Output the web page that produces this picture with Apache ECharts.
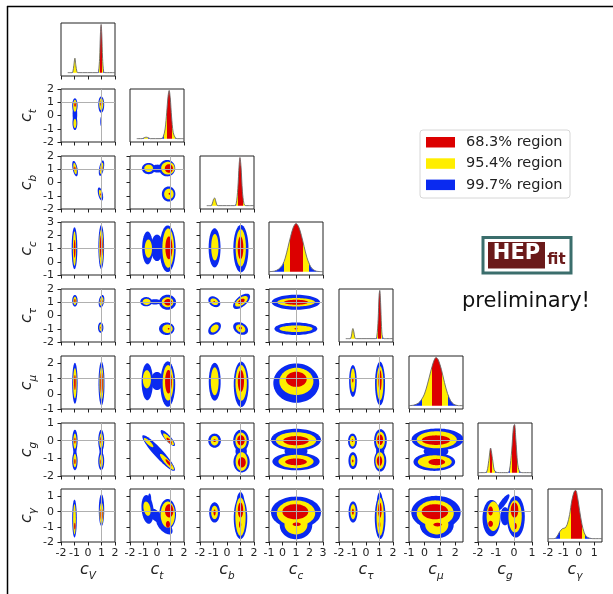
<!DOCTYPE html>
<html>
<head>
<meta charset="utf-8">
<script src="https://cdn.jsdelivr.net/npm/echarts@6/dist/echarts.min.js"></script>
<style>html,body{margin:0;background:#fff}#chart{width:613px;height:594px}</style>
</head>
<body>
<div id="chart"></div>
<script>
const FONT = 'DejaVu Sans';
const RED = '#dc0000', YELLOW = '#ffee00', BLUE = '#0a2af0';
const levelColor = {1: RED, 2: YELLOW, 3: BLUE};

// parameters (order of rows / columns)
const params = ['V', 't', 'b', 'c', 'τ', 'μ', 'g', 'γ'];
const axisMin = [-2, -2, -2, -1, -2, -1, -2, -2];
const axisMax = [2, 2, 2, 3, 2, 2.5, 1, 1.5];
const tickValues = [
  [-2, -1, 0, 1, 2], [-2, -1, 0, 1, 2], [-2, -1, 0, 1, 2], [-1, 0, 1, 2, 3],
  [-2, -1, 0, 1, 2], [-1, 0, 1, 2], [-2, -1, 0, 1], [-2, -1, 0, 1]
];
const smPoint = [1, 1, 1, 1, 1, 1, 0, 0];

// 1D posteriors [x, density / peak]
const hist_cV = [[-1.5,0],[-1.2,0],[-1.12,0.02],[-1.05,0.15],[-0.97,0.3],[-0.9,0.15],[-0.82,0.02],[-0.75,0],[0.7,0],[0.78,0.02],[0.86,0.3],[0.92,0.8],[0.97,1],[1.02,0.8],[1.08,0.3],[1.16,0.02],[1.25,0],[2,0]];
const hist_ct = [[-1.5,0],[-1.1,0],[-0.95,0.02],[-0.8,0.03],[-0.65,0.02],[-0.5,0],[0.3,0],[0.45,0.03],[0.6,0.2],[0.72,0.55],[0.82,0.88],[0.9,1],[0.98,0.85],[1.08,0.45],[1.2,0.13],[1.35,0.02],[1.5,0],[2,0]];
const hist_cb = [[-1.5,0],[-1.2,0],[-1.1,0.03],[-1.0,0.13],[-0.92,0.16],[-0.84,0.1],[-0.74,0.01],[-0.65,0],[0.55,0],[0.68,0.04],[0.8,0.35],[0.9,0.85],[0.96,1],[1.04,0.8],[1.14,0.3],[1.26,0.04],[1.4,0],[2,0]];
const hist_cc = [[-1,0],[-0.6,0.01],[-0.3,0.05],[0,0.14],[0.2,0.28],[0.4,0.5],[0.6,0.73],[0.8,0.92],[1.0,1.0],[1.2,0.93],[1.4,0.75],[1.6,0.52],[1.8,0.3],[2.0,0.15],[2.2,0.06],[2.5,0.01],[3,0]];
const hist_ctau = [[-1.5,0],[-1.2,0],[-1.1,0.03],[-1.02,0.17],[-0.97,0.21],[-0.9,0.14],[-0.82,0.02],[-0.7,0],[0.7,0],[0.8,0.04],[0.9,0.4],[0.97,0.9],[1.02,1],[1.08,0.75],[1.15,0.25],[1.22,0.03],[1.35,0],[2,0]];
const hist_cmu = [[-1,0],[-0.7,0.01],[-0.4,0.05],[-0.2,0.12],[0,0.24],[0.2,0.45],[0.4,0.7],[0.6,0.92],[0.75,1.0],[0.9,0.95],[1.1,0.75],[1.3,0.48],[1.5,0.25],[1.7,0.1],[1.9,0.03],[2.2,0],[2.5,0]];
const hist_cg = [[-2,0],[-1.6,0],[-1.5,0.03],[-1.4,0.25],[-1.3,0.51],[-1.2,0.3],[-1.1,0.06],[-1.0,0.01],[-0.8,0],[-0.35,0],[-0.25,0.05],[-0.13,0.45],[-0.03,0.95],[0.03,1.0],[0.1,0.7],[0.2,0.2],[0.3,0.03],[0.45,0],[1,0]];
const hist_cgam = [[-2,0],[-1.6,0],[-1.45,0.03],[-1.25,0.14],[-1.05,0.21],[-0.9,0.22],[-0.75,0.3],[-0.6,0.5],[-0.45,0.8],[-0.3,0.98],[-0.2,1.0],[-0.08,0.85],[0.05,0.58],[0.2,0.3],[0.35,0.12],[0.5,0.04],[0.7,0.01],[0.9,0],[1.5,0]];

// credible intervals [from, to, level] (1 = 68.3%, 2 = 95.4%, rest 99.7%)
const band_cV = [[-1.1,-0.84,2],[0.82,0.9,2],[0.9,1.06,1],[1.06,1.14,2]];
const band_ct = [[-0.95,-0.68,2],[0.52,0.72,2],[0.72,1.12,1],[1.12,1.3,2]];
const band_cb = [[-1.08,-0.72,2],[0.66,0.8,2],[0.8,1.18,1],[1.18,1.32,2]];
const band_cc = [[0.1,0.55,2],[0.55,1.5,1],[1.5,1.98,2]];
const band_ctau = [[-1.1,-0.85,2],[0.83,0.92,2],[0.92,1.14,1],[1.14,1.22,2]];
const band_cmu = [[-0.18,0.47,2],[0.47,1.12,1],[1.12,1.55,2]];
const band_cg = [[-1.5,-1.33,2],[-1.33,-1.22,1],[-1.22,-1.08,2],[-0.24,-0.09,2],[-0.09,0.15,1],[0.15,0.26,2]];
const band_cgam = [[-1.24,-0.51,2],[-0.51,0.2,1],[0.2,0.42,2]];

const hists = [hist_cV, hist_ct, hist_cb, hist_cc, hist_ctau, hist_cmu, hist_cg, hist_cgam];
const bands = [band_cV, band_ct, band_cb, band_cc, band_ctau, band_cmu, band_cg, band_cgam];

// 2D regions: [level, centre x, centre y, half-width x, half-height y, correlation]
const ct_cV = [[3,-0.97,0.75,0.2,0.55,0],[3,-0.97,-0.55,0.18,0.55,0],[3,-0.97,0.1,0.17,0.75,0],[2,-0.97,0.73,0.13,0.45,0],[2,-0.97,-0.6,0.11,0.35,0],[1,-0.96,0.8,0.06,0.14,0],[3,0.98,0.82,0.22,0.62,0],[3,0.97,-0.45,0.06,0.35,0],[2,0.98,0.85,0.15,0.45,0],[1,0.98,0.9,0.07,0.18,0]];
const cb_cV = [[3,-0.96,1.05,0.21,0.58,-0.5],[2,-0.96,1.05,0.13,0.42,-0.5],[1,-0.97,1.05,0.05,0.15,-0.3],[3,1.0,1.08,0.2,0.58,0.5],[2,1.0,1.08,0.13,0.42,0.5],[1,1.0,1.05,0.06,0.2,0.3],[3,0.92,-0.87,0.2,0.5,-0.5],[2,0.93,-0.87,0.12,0.33,-0.5],[1,0.95,-0.9,0.04,0.08,0]];
const cb_ct = [[3,-0.62,1.05,0.5,0.42,0],[3,0.05,1.05,0.5,0.3,0],[3,0.75,1.08,0.6,0.62,0],[2,-0.62,1.07,0.32,0.28,0],[2,0.81,1.08,0.5,0.48,0],[1,0.88,1.06,0.3,0.32,0],[3,0.86,-0.87,0.5,0.57,0],[2,0.88,-0.87,0.35,0.4,0],[1,0.93,-0.85,0.07,0.07,0]];
const cc_cV = [[3,-1.0,1.02,0.21,1.58,0],[2,-1.0,0.99,0.12,1.29,0],[1,-0.99,0.98,0.06,0.68,0],[3,0.98,1.11,0.21,1.67,0],[2,0.98,1.07,0.15,1.38,0],[1,0.98,1.15,0.1,0.87,0]];
const cc_ct = [[3,-0.7,1.04,0.4,1.24,0],[3,0.0,1.05,0.45,1.0,0],[3,0.79,0.98,0.59,1.76,0],[2,-0.64,0.99,0.27,0.69,0],[2,0.83,1.03,0.43,1.48,0],[1,0.88,1.05,0.26,0.86,0]];
const cc_cb = [[3,-0.92,1.05,0.44,1.48,0],[2,-0.9,1.1,0.27,1.0,0],[3,1.03,0.99,0.56,1.79,0],[2,1.02,1.05,0.38,1.41,0],[1,1.0,1.05,0.21,0.86,0]];
const ctau_cV = [[3,-0.97,1.11,0.2,0.44,0],[2,-0.97,1.11,0.12,0.31,0],[1,-0.97,1.11,0.05,0.14,0],[3,1.0,1.08,0.21,0.47,0.3],[2,1.0,1.07,0.14,0.33,0.3],[1,1.0,1.05,0.07,0.15,0],[3,0.94,-0.91,0.2,0.39,0],[2,0.95,-0.91,0.11,0.26,0],[1,0.96,-0.92,0.04,0.07,0]];
const ctau_ct = [[3,-0.8,1.04,0.44,0.35,0],[3,-0.15,1.03,0.45,0.2,0],[3,0.78,1.0,0.63,0.57,0],[2,-0.77,1.03,0.29,0.23,0],[2,0.78,1.0,0.43,0.38,0],[1,0.82,1.0,0.29,0.24,0],[3,0.72,-1.0,0.57,0.47,0],[2,0.78,-1.0,0.38,0.32,0],[1,0.86,-1.0,0.06,0.06,0]];
const ctau_cb = [[3,-0.94,1.04,0.44,0.41,-0.3],[2,-0.94,1.04,0.29,0.25,-0.3],[1,-0.95,1.05,0.05,0.05,0],[3,1.08,1.07,0.63,0.58,0.6],[2,1.07,1.07,0.47,0.4,0.6],[1,1.06,1.07,0.25,0.2,0.5],[3,-0.92,-0.98,0.47,0.48,0.4],[2,-0.92,-0.98,0.3,0.3,0.4],[3,1.01,-0.98,0.55,0.48,-0.3],[2,1.01,-0.98,0.35,0.3,-0.3],[1,1.0,-0.95,0.1,0.1,0]];
const ctau_cc = [[3,0.99,1.0,1.79,0.57,0],[2,1.01,1.0,1.4,0.32,0],[1,1.01,1.0,0.9,0.19,0],[3,0.99,-1.0,1.59,0.47,0],[2,1.0,-1.0,1.23,0.25,0],[1,1.0,-1.0,0.12,0.05,0]];
const cmu_cV = [[3,-0.97,0.7,0.2,1.35,0],[2,-0.97,0.7,0.13,1.0,0],[1,-0.97,0.75,0.06,0.5,0],[3,1.0,0.68,0.22,1.45,0],[2,1.0,0.7,0.15,1.1,0],[1,1.0,0.72,0.09,0.78,0]];
const cmu_ct = [[3,-0.72,0.8,0.42,1.22,0],[3,0.0,0.85,0.45,0.6,0],[3,0.8,0.65,0.55,1.5,0],[2,-0.75,0.96,0.3,0.6,0],[2,0.82,0.73,0.4,1.17,0],[1,0.85,0.8,0.25,0.78,0]];
const cmu_cb = [[3,-0.91,0.8,0.44,1.25,0],[2,-0.91,0.83,0.29,0.92,0],[3,1.05,0.63,0.55,1.5,0],[2,1.05,0.72,0.42,1.18,0],[1,1.03,0.85,0.23,0.72,0]];
const cmu_cc = [[3,1.02,0.71,1.7,1.3,0],[2,1.03,0.82,1.26,0.9,0],[1,1.02,0.96,0.77,0.5,0]];
const cmu_ctau = [[3,-0.97,0.85,0.28,1.05,0],[2,-0.97,0.9,0.17,0.78,0],[1,-0.98,0.9,0.05,0.15,0],[3,1.04,0.68,0.37,1.44,0],[2,1.04,0.7,0.25,1.13,0],[1,1.04,0.9,0.12,0.66,0]];
const cg_cV = [[3,-0.97,0.0,0.2,0.62,0],[3,-0.97,-1.15,0.2,0.52,0],[3,-0.97,-0.6,0.12,0.4,0],[2,-0.97,-0.03,0.12,0.43,0],[2,-0.97,-1.13,0.12,0.38,0],[1,-0.97,0.0,0.05,0.17,0],[1,-0.97,-1.18,0.05,0.15,0],[3,0.98,0.0,0.22,0.62,0],[3,0.98,-1.15,0.22,0.52,0],[3,0.98,-0.6,0.13,0.4,0],[2,0.98,0.0,0.14,0.42,0],[2,0.98,-1.15,0.13,0.38,0],[1,0.98,0.02,0.07,0.2,0],[1,0.98,-1.2,0.06,0.15,0]];
const cg_ct = [[3,0.8,0.15,0.53,0.45,-0.85],[3,0.12,-0.7,1.21,1.01,-0.93],[2,0.85,0.08,0.4,0.33,-0.85],[2,-0.62,-0.11,0.35,0.26,-0.85],[2,0.74,-1.2,0.52,0.45,-0.9],[1,0.9,0.0,0.2,0.17,-0.8],[1,0.85,-1.25,0.22,0.2,-0.85]];
const cg_cb = [[3,-0.92,0.0,0.47,0.4,0],[2,-0.92,0.0,0.29,0.27,0],[1,-0.92,0.0,0.1,0.08,0],[3,1.04,0.0,0.58,0.62,0],[3,1.08,-1.2,0.6,0.6,0],[3,1.05,-0.6,0.42,0.4,0],[2,1.04,0.0,0.42,0.46,0],[2,1.08,-1.18,0.44,0.53,0],[1,1.03,0.02,0.28,0.29,0],[1,1.1,-1.23,0.29,0.29,0]];
const cg_cc = [[3,1.0,0.05,1.85,0.62,0],[3,1.0,-1.18,1.75,0.5,0],[3,1.0,-0.6,0.85,0.35,0],[2,1.0,0.02,1.5,0.46,0],[2,1.0,-1.18,1.3,0.38,0],[1,1.0,0.0,0.95,0.26,0],[1,1.0,-1.2,0.8,0.19,0]];
const cg_ctau = [[3,-1.0,-0.03,0.33,0.43,0],[2,-1.0,-0.03,0.2,0.3,0],[1,-1.0,0.0,0.06,0.08,0],[3,-0.97,-1.13,0.33,0.48,0],[2,-0.97,-1.13,0.18,0.32,0],[1,-0.98,-1.15,0.05,0.08,0],[3,1.07,0.0,0.47,0.65,0],[3,1.05,-1.15,0.45,0.6,0],[3,1.05,-0.6,0.3,0.4,0],[2,1.07,0.02,0.33,0.48,0],[2,1.03,-1.13,0.33,0.48,0],[1,1.05,0.05,0.22,0.3,0],[1,1.0,-1.15,0.2,0.28,0]];
const cg_cmu = [[3,0.85,0.07,1.68,0.62,0],[3,0.64,-1.2,1.35,0.51,0],[3,0.75,-0.6,0.8,0.35,0],[2,0.8,0.05,1.3,0.48,0],[2,0.67,-1.2,1.1,0.37,0],[1,0.75,0.03,0.92,0.27,0],[1,0.8,-1.21,0.54,0.18,0]];
const cgam_cV = [[3,-1.0,-0.45,0.17,1.25,0],[2,-1.0,-0.5,0.1,1.0,0],[1,-0.98,-0.95,0.05,0.22,0],[3,1.0,0.1,0.2,1.05,0],[3,1.0,0.7,0.08,0.45,0],[2,1.0,-0.12,0.14,0.72,0],[1,1.0,-0.18,0.08,0.42,0]];
const cgam_ct = [[3,-0.7,0.15,0.45,0.95,-0.2],[3,-0.55,0.85,0.12,0.35,0],[3,-0.1,-0.25,0.45,0.45,-0.5],[3,0.79,-0.16,0.62,1.0,0],[3,0.55,-0.95,0.6,0.55,-0.6],[2,-0.74,0.2,0.27,0.47,-0.3],[2,0.8,-0.19,0.53,0.86,0],[1,0.9,0.06,0.31,0.44,0],[1,0.81,-0.83,0.15,0.22,0]];
const cgam_cb = [[3,-0.92,-0.05,0.4,0.67,0],[2,-0.92,-0.05,0.25,0.44,0],[1,-0.92,-0.05,0.08,0.2,0],[3,1.0,-0.4,0.5,1.4,0],[3,1.0,0.5,0.3,0.8,0],[2,1.0,-0.33,0.38,1.27,0],[1,1.0,0.11,0.2,0.5,0],[1,0.97,-0.85,0.08,0.22,0]];
const cgam_cc = [[3,1.0,-0.05,1.85,1.05,0],[3,1.0,-0.9,1.2,0.92,0],[2,1.0,-0.1,1.42,0.85,0],[2,1.0,-0.85,0.85,0.65,0],[1,0.95,0.0,0.96,0.5,0],[1,1.05,-0.83,0.3,0.12,0]];
const cgam_ctau = [[3,-0.96,-0.02,0.33,0.7,0],[2,-0.96,0.0,0.2,0.5,0],[1,-0.97,0.0,0.07,0.2,0],[3,1.05,-0.4,0.4,1.4,0],[3,1.02,0.5,0.22,0.8,0],[2,1.05,-0.33,0.27,1.25,0],[1,1.03,0.1,0.13,0.5,0],[1,1.0,-0.85,0.06,0.22,0]];
const cgam_cmu = [[3,0.75,-0.05,1.6,1.1,0],[3,0.8,-0.85,1.1,0.9,0],[2,0.7,-0.1,1.2,0.85,0],[2,0.8,-0.85,0.75,0.65,0],[1,0.68,0.0,0.86,0.5,0],[1,0.85,-0.85,0.27,0.12,0]];
const cgam_cg = [[3,0.1,-0.33,0.5,1.38,0],[3,-1.25,-0.42,0.5,1.2,0],[3,-0.6,0.6,0.35,0.55,0.85],[3,-0.5,-0.3,0.25,0.6,0],[2,0.06,-0.31,0.37,1.07,0],[2,-1.15,-0.3,0.37,0.97,0],[1,0.03,0.11,0.21,0.5,0],[1,0.08,-0.95,0.07,0.2,0],[1,-1.3,0.05,0.13,0.3,0],[1,-1.3,-0.8,0.13,0.2,0]];

// [row, column, regions]
const pairs = [
  [1,0,ct_cV],
  [2,0,cb_cV],[2,1,cb_ct],
  [3,0,cc_cV],[3,1,cc_ct],[3,2,cc_cb],
  [4,0,ctau_cV],[4,1,ctau_ct],[4,2,ctau_cb],[4,3,ctau_cc],
  [5,0,cmu_cV],[5,1,cmu_ct],[5,2,cmu_cb],[5,3,cmu_cc],[5,4,cmu_ctau],
  [6,0,cg_cV],[6,1,cg_ct],[6,2,cg_cb],[6,3,cg_cc],[6,4,cg_ctau],[6,5,cg_cmu],
  [7,0,cgam_cV],[7,1,cgam_ct],[7,2,cgam_cb],[7,3,cgam_cc],[7,4,cgam_ctau],[7,5,cgam_cmu],[7,6,cgam_cg]
];

const legendLabels = ['68.3% region', '95.4% region', '99.7% region'];

// layout
const colLeft = [61, 130, 200, 269, 339, 409, 478, 548];
const rowTop = [23, 89, 156, 222, 289, 356, 423, 489];
const W = 54, H = 53;

const nameRich = {
  c: {fontFamily: FONT, fontStyle: 'italic', fontSize: 16, color: '#222'},
  s: {fontFamily: FONT, fontStyle: 'italic', fontSize: 10.5, color: '#222', verticalAlign: 'bottom', padding: [0, 0, -4, 0]}
};
function axisName(i) { return '{c|c}{s|' + params[i] + '}'; }

const grids = [], xAxes = [], yAxes = [], series = [], visualMaps = [];

function addGrid(r, c, isHist) {
  const gi = grids.length;
  grids.push({left: colLeft[c], top: rowTop[r], width: W, height: H, show: true,
    borderColor: '#222', borderWidth: 1, backgroundColor: 'transparent'});
  xAxes.push({
    gridIndex: gi, type: 'value', min: axisMin[c], max: axisMax[c], interval: 1,
    axisLine: {show: false, onZero: false}, splitLine: {show: false},
    axisTick: {show: true, length: 3.5, lineStyle: {color: '#222'}, customValues: tickValues[c]},
    axisLabel: {show: r === 7, customValues: tickValues[c], margin: 6, fontSize: 11, color: '#222', fontFamily: FONT},
    name: r === 7 ? axisName(c) : '', nameLocation: 'middle', nameGap: 20,
    nameTextStyle: {rich: nameRich}
  });
  if (isHist) {
    yAxes.push({gridIndex: gi, type: 'value', min: -0.07, max: 1.03, show: false});
  } else {
    yAxes.push({
      gridIndex: gi, type: 'value', min: axisMin[r], max: axisMax[r], interval: 1,
      axisLine: {show: false, onZero: false}, splitLine: {show: false},
      axisTick: {show: true, length: 3.5, lineStyle: {color: '#222'}, customValues: tickValues[r]},
      axisLabel: {show: c === 0, customValues: tickValues[r], margin: 7, fontSize: 11, color: '#222', fontFamily: FONT},
      name: c === 0 ? axisName(r) : '', nameLocation: 'middle', nameGap: 24, nameRotate: 90,
      nameTextStyle: {rich: nameRich}
    });
  }
  return gi;
}

function renderBlob(params, api) {
  const lv = api.value(0), cx = api.value(1), cy = api.value(2);
  const sx = api.value(3), sy = api.value(4), rho = api.value(5);
  const q = Math.sqrt(1 - rho * rho);
  const pts = [];
  for (let k = 0; k < 72; k++) {
    const t = Math.PI * 2 * k / 72;
    pts.push(api.coord([cx + sx * Math.cos(t), cy + sy * (rho * Math.cos(t) + q * Math.sin(t))]));
  }
  return {type: 'polygon', shape: {points: pts}, style: {fill: levelColor[lv], stroke: null}};
}

// diagonal: 1D posteriors
for (let k = 0; k < 8; k++) {
  const gi = addGrid(k, k, true);
  series.push({
    type: 'line', xAxisIndex: gi, yAxisIndex: gi, data: hists[k],
    smooth: 0.3, showSymbol: false, silent: true,
    lineStyle: {color: '#666', width: 0.9}, areaStyle: {opacity: 1}
  });
  visualMaps.push({
    type: 'piecewise', show: false, seriesIndex: series.length - 1, dimension: 0,
    pieces: bands[k].map(b => ({gte: b[0], lt: b[1], color: levelColor[b[2]]})),
    outOfRange: {color: BLUE}
  });
}

// off-diagonal: 2D regions
pairs.forEach(([r, c, blobs]) => {
  const gi = addGrid(r, c, false);
  series.push({
    type: 'custom', coordinateSystem: 'cartesian2d', xAxisIndex: gi, yAxisIndex: gi,
    clip: true, silent: true,
    data: blobs.slice().sort((a, b) => b[0] - a[0]),
    encode: {x: 1, y: 2},
    renderItem: renderBlob,
    markLine: {
      silent: true, symbol: ['none', 'none'], label: {show: false}, animation: false,
      lineStyle: {color: '#b0b0b0', width: 1, type: 'solid'},
      data: [{xAxis: smPoint[c]}, {yAxis: smPoint[r]}]
    }
  });
});

const legendItems = [];
[RED, YELLOW, BLUE].forEach((col, i) => {
  legendItems.push({type: 'rect', shape: {x: 426, y: 137 + i * 21.3, width: 29, height: 10.5}, style: {fill: col}});
  legendItems.push({type: 'text', style: {x: 466, y: 142.3 + i * 21.3, text: legendLabels[i], fontFamily: FONT, fontSize: 14.5, fill: '#222', verticalAlign: 'middle'}});
});

const chart = echarts.init(document.getElementById('chart'));
chart.setOption({
  animation: false,
  backgroundColor: '#fff',
  grid: grids, xAxis: xAxes, yAxis: yAxes, series: series, visualMap: visualMaps,
  graphic: [
    {type: 'line', shape: {x1: 7, y1: 6.5, x2: 613, y2: 6.5}, style: {stroke: '#000', lineWidth: 1.5}},
    {type: 'line', shape: {x1: 7.5, y1: 6, x2: 7.5, y2: 594}, style: {stroke: '#000', lineWidth: 1.5}},
    {type: 'rect', shape: {x: 420, y: 130, width: 150, height: 68, r: 3}, style: {fill: '#fff', stroke: '#d6d6d6', lineWidth: 1}},
    ...legendItems,
    {type: 'rect', shape: {x: 483, y: 237.5, width: 88, height: 35.5}, style: {fill: '#fff', stroke: '#3b6e6c', lineWidth: 3}},
    {type: 'rect', shape: {x: 488, y: 242, width: 57, height: 26.5}, style: {fill: '#6b1a1a'}},
    {type: 'text', style: {x: 516.5, y: 254, text: 'HEP', fontFamily: FONT, fontWeight: 'bold', fontSize: 21, fill: '#fff', align: 'center', verticalAlign: 'middle'}},
    {type: 'text', style: {x: 556.5, y: 260.5, text: 'fit', fontFamily: FONT, fontWeight: 'bold', fontSize: 15, fill: '#6b1a1a', align: 'center', verticalAlign: 'middle'}},
    {type: 'text', style: {x: 462, y: 302, text: 'preliminary!', fontFamily: FONT, fontSize: 21, fill: '#111', verticalAlign: 'middle'}}
  ]
});
</script>
</body>
</html>
